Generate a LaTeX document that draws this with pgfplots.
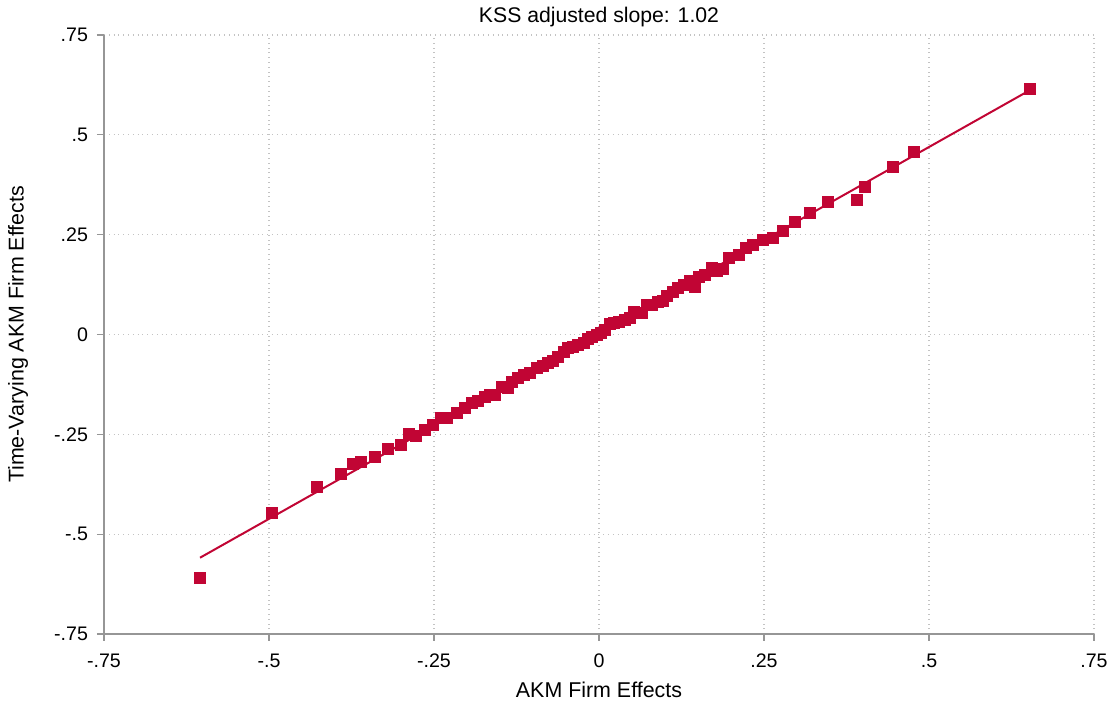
\documentclass[border=0pt]{standalone}
\usepackage{pgfplots}
\pgfplotsset{compat=1.18}
\usepackage{fontspec}
\setmainfont{Liberation Sans}
\definecolor{cran}{RGB}{193,5,52}
\definecolor{axgrey}{RGB}{150,150,150}
\definecolor{gridgrey}{RGB}{195,195,195}
\begin{document}
\begin{tikzpicture}
\path[use as bounding box] (-52pt,-36pt) rectangle (505.5pt,317pt);
\begin{axis}[
  at={(0,0)}, anchor=south west,
  scale only axis, width=495pt, height=299.5pt,
  xmin=-0.75, xmax=0.75, ymin=-0.75, ymax=0.75,
  axis x line*=bottom, axis y line*=left,
  axis line style={axgrey, line width=0.6pt},
  xtick={-0.75,-0.5,-0.25,0,0.25,0.5,0.75},
  ytick={-0.75,-0.5,-0.25,0,0.25,0.5,0.75},
  xticklabels={-.75,-.5,-.25,0,.25,.5,.75},
  yticklabels={-.75,-.5,-.25,0,.25,.5,.75},
  tick align=outside, major tick length=3.5pt,
  tick style={axgrey, line width=0.6pt},
  minor tick num=0,
  grid=major,
  major grid style={gridgrey, dotted, line width=0.6pt},
  ticklabel style={font=\fontsize{9.8}{11}\selectfont},
  /pgf/number format/assume math mode=true,
  xticklabel style={yshift=-3pt},
  yticklabel style={xshift=-1pt},
  xlabel={AKM Firm Effects},
  ylabel={Time-Varying AKM Firm Effects},
  label style={font=\fontsize{10.7}{12}\selectfont},
  xlabel style={at={(axis description cs:0.5,0)}, anchor=center, yshift=-28pt},
  ylabel style={at={(axis description cs:0,0.5)}, anchor=center, yshift=43pt},
  clip=false,
]
\addplot[only marks, mark=square*, mark size=2.6pt, draw=cran, fill=cran] coordinates {
(-0.6045,-0.6098) (-0.4955,-0.4471) (-0.4273,-0.3820) (-0.3909,-0.3494)
(-0.3727,-0.3243) (-0.3606,-0.3193) (-0.3394,-0.3068) (-0.3197,-0.2868)
(-0.3000,-0.2767) (-0.2879,-0.2492) (-0.2773,-0.2542) (-0.2636,-0.2392)
(-0.2515,-0.2267) (-0.2394,-0.2091) (-0.2303,-0.2091) (-0.2152,-0.1966)
(-0.2030,-0.1841) (-0.1924,-0.1716) (-0.1833,-0.1665) (-0.1727,-0.1565)
(-0.1652,-0.1515) (-0.1576,-0.1515) (-0.1470,-0.1315) (-0.1379,-0.1340)
(-0.1318,-0.1190) (-0.1227,-0.1089) (-0.1136,-0.1014) (-0.1045,-0.0964)
(-0.0939,-0.0839) (-0.0848,-0.0789) (-0.0773,-0.0714) (-0.0697,-0.0664)
(-0.0621,-0.0564) (-0.0530,-0.0438) (-0.0470,-0.0338) (-0.0394,-0.0313)
(-0.0318,-0.0263) (-0.0227,-0.0213) (-0.0167,-0.0113) (-0.0106,-0.0063)
(-0.0030,-0.0013) (0.0030,0.0038) (0.0091,0.0113) (0.0167,0.0263)
(0.0227,0.0288) (0.0303,0.0313) (0.0394,0.0363) (0.0470,0.0413)
(0.0530,0.0563) (0.0652,0.0538) (0.0727,0.0739) (0.0803,0.0739)
(0.0894,0.0814) (0.0970,0.0839) (0.1030,0.0964) (0.1121,0.1064)
(0.1197,0.1165) (0.1288,0.1240) (0.1379,0.1340) (0.1455,0.1190)
(0.1515,0.1440) (0.1606,0.1490) (0.1712,0.1665) (0.1788,0.1590)
(0.1879,0.1640) (0.1970,0.1916) (0.2121,0.1991) (0.2227,0.2166)
(0.2333,0.2241) (0.2485,0.2367) (0.2636,0.2417) (0.2788,0.2592)
(0.2970,0.2817) (0.3197,0.3043) (0.3470,0.3318) (0.3909,0.3368)
(0.4030,0.3694) (0.4455,0.4195) (0.4773,0.4571) (0.6530,0.6149)
};
\addplot[cran, line width=1pt] coordinates {(-0.6045,-0.559) (0.6530,0.612)};
\node[font=\fontsize{10.6}{12}\selectfont, anchor=center] at (axis description cs:0.5,1) [yshift=9pt] {KSS adjusted slope: 1.02};
\end{axis}
\end{tikzpicture}
\end{document}
